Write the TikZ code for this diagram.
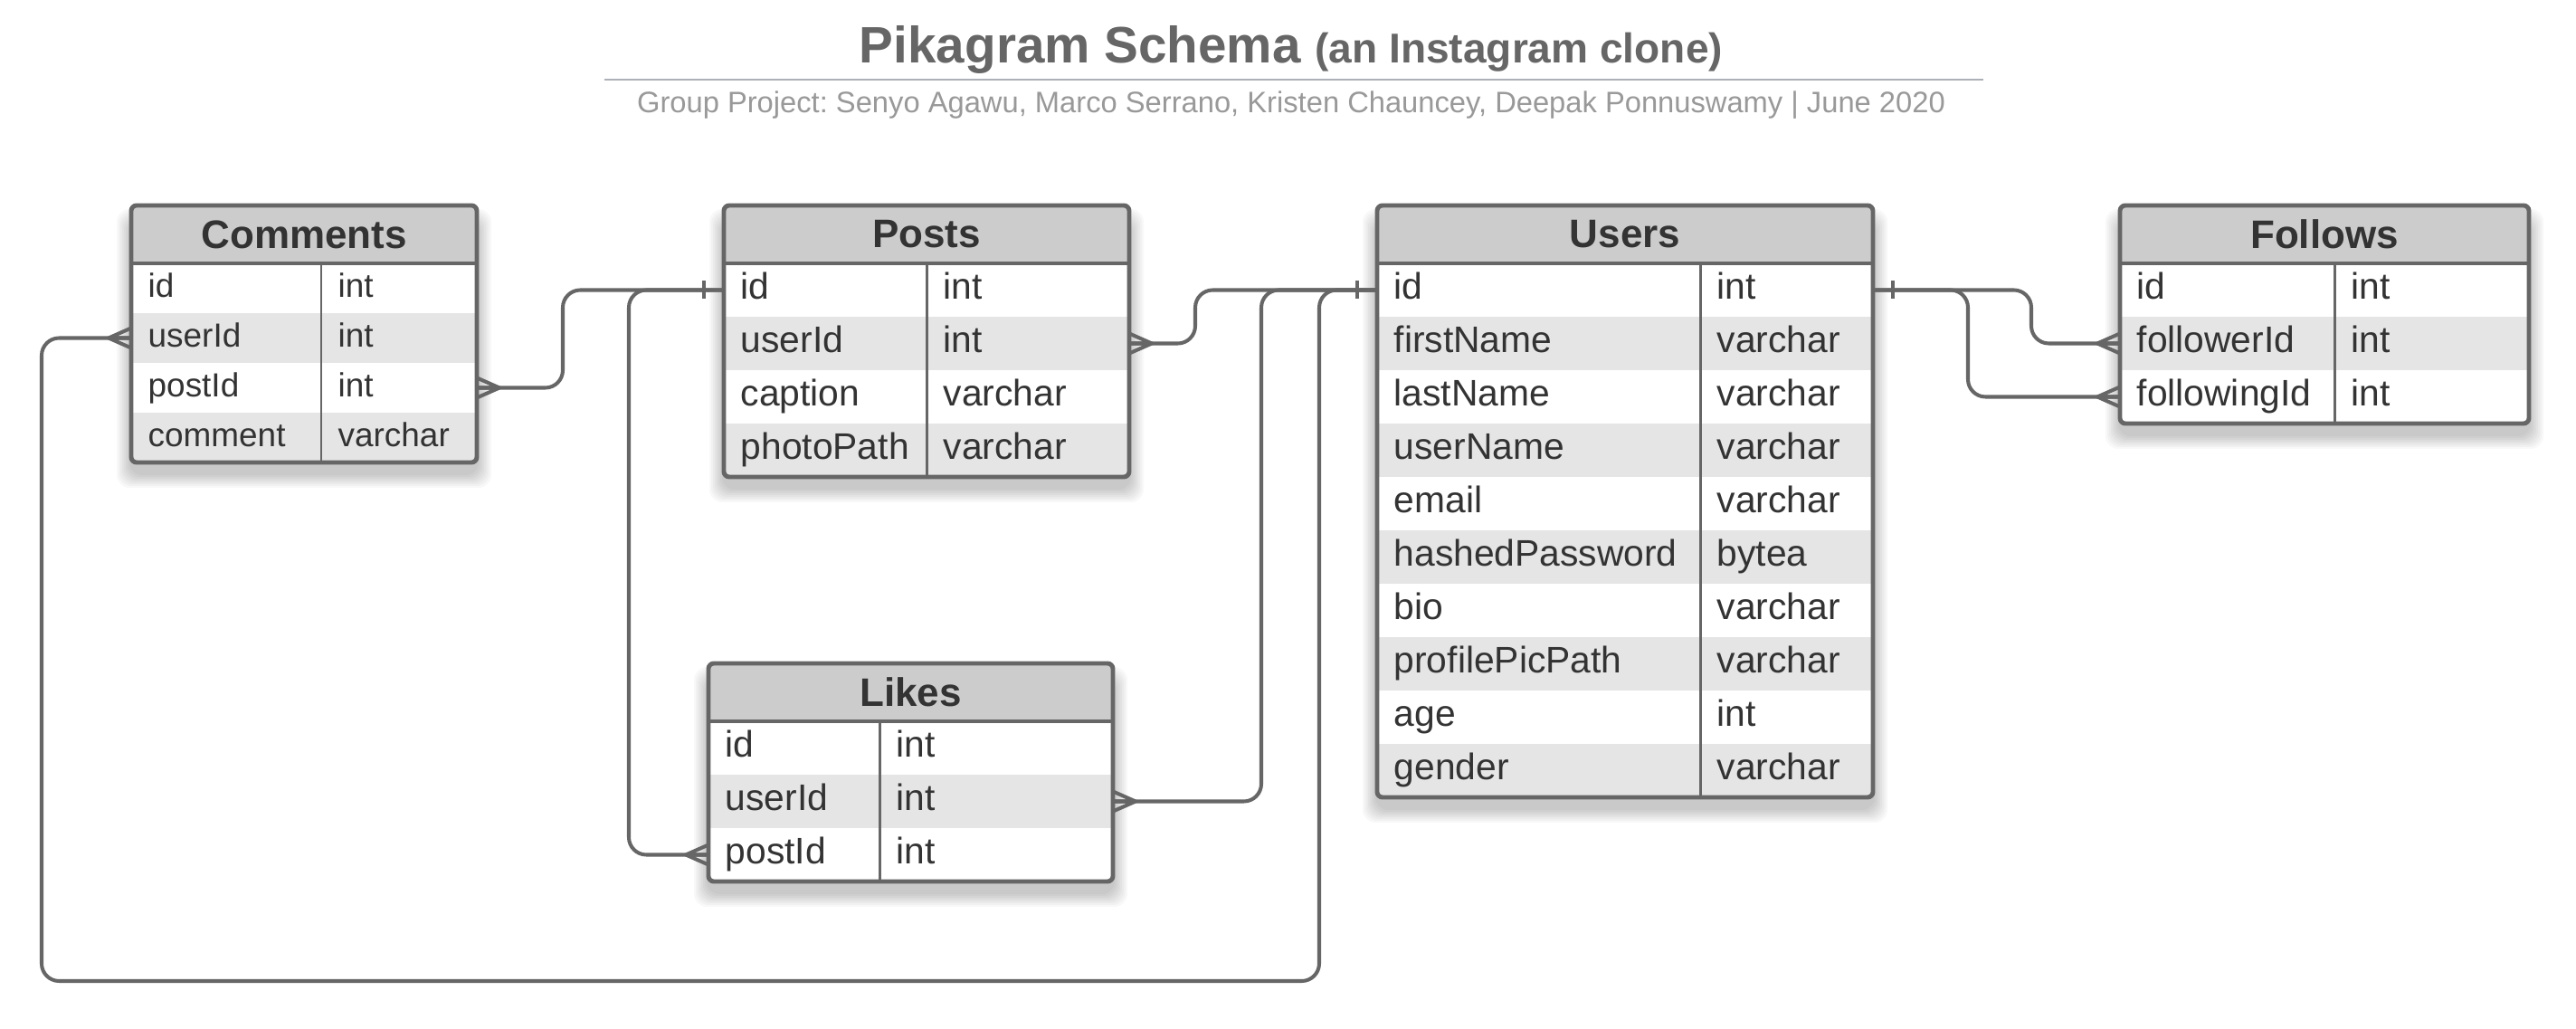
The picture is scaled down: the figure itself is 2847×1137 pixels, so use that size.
\documentclass[tikz,border=0pt]{standalone}
\usepackage{fontspec}
\setmainfont{Liberation Sans}
\frenchspacing

\definecolor{linegray}{HTML}{666666}
\definecolor{hdrgray}{HTML}{CCCCCC}
\definecolor{txtdark}{HTML}{333333}
\definecolor{subgray}{HTML}{999999}
\definecolor{rulegray}{HTML}{ADB0B6}

\tikzset{
  tblhead/.style={fill=hdrgray, inner sep=0pt, outer sep=0pt, minimum height=0.64cm, text=txtdark, font=\fontsize{12.5}{15}\selectfont\bfseries},
  tblrow/.style={inner sep=0pt, outer sep=0pt},
  fieldtxt/.style={anchor=base west, inner sep=0pt, text=txtdark, font=\fontsize{11.6}{14}\selectfont},
  tblline/.style={draw=linegray, line width=1.4pt},
  conn/.style={draw=linegray, line width=1.15pt, rounded corners=5.5pt},
  crow/.pic={\draw[conn, sharp corners, line join=round] (0,-11) -- (25,0) -- (0,11) (0,0) -- (25,0);},
  onebar/.pic={\draw[conn] (-22,-10) -- (-22,10);}
}

% name, x, y, width, first column, row height, rows, title, fields
\newcommand{\erdtable}[9]{%
  \foreach \k in {0,...,7}
    \fill[black, opacity=0.028, rounded corners=4pt]
      ({#2-16+2*\k},{#3+4+2*\k}) rectangle ({#2+#4+16-2*\k},{#3+64+#7*#6+28-2*\k});
  \begin{scope}
    \clip[rounded corners=1.7pt] (#2,#3) rectangle ++(#4,{64+#7*#6});
    \node[tblhead, minimum width={#4*0.01cm}, anchor=north west] (#1) at (#2,#3) {#8};
    \foreach \fld/\typ [count=\i, evaluate=\i as \g using {int(10-10*mod(\i,2))}] in {#9} {
      \node[tblrow, fill=black!\g, minimum width={#4*0.01cm}, minimum height={#6*0.01cm}, anchor=north west]
        (#1-\fld) at (#2,{#3+64+(\i-1)*#6}) {};
      \node[fieldtxt] at ({#2+18},{#3+64+(\i-0.5)*#6+10}) {\fld};
      \node[fieldtxt] at ({#2+#5+18},{#3+64+(\i-0.5)*#6+10}) {\typ};
      \draw[linegray, line width=0.85pt] ({#2+#5},{#3+64+(\i-1)*#6}) -- ++(0,#6);
    }
  \end{scope}
  \draw[tblline] (#2,{#3+64}) -- ++(#4,0);
  \draw[tblline, rounded corners=1.7pt] (#2,#3) rectangle ++(#4,{64+#7*#6});
}

\begin{document}
\begin{tikzpicture}[x=0.01cm, y=-0.01cm]
  \useasboundingbox (0,0) rectangle (2847,1137);
  \fill[white] (0,0) rectangle (2847,1137);

  % title
  \node[font=\fontsize{16.1}{19}\selectfont\bfseries, text=linegray, anchor=base] (title) at (1427,70)
    {Pikagram Schema {\fontsize{13.1}{16}\selectfont(an Instagram clone)}};
  \draw[rulegray, line width=0.7pt] (668,88) -- (2192,88);
  \node[font=\fontsize{9.3}{11}\selectfont, text=subgray, anchor=base] (subtitle) at (1427,125)
    {Group Project: Senyo Agawu, Marco Serrano, Kristen Chauncey, Deepak Ponnuswamy | June 2020};

  % tables
  \begin{scope}[fieldtxt/.append style={font=\fontsize{10.5}{13}\selectfont}]
    \erdtable{comments}{145}{227}{382}{210}{55}{4}{Comments}{id/int, userId/int, postId/int, comment/varchar}
  \end{scope}
  \erdtable{posts}{800}{227}{448}{224}{59}{4}{Posts}{id/int, userId/int, caption/varchar, photoPath/varchar}
  \erdtable{users}{1522}{227}{548}{357}{59}{10}{Users}{id/int, firstName/varchar, lastName/varchar, userName/varchar, email/varchar, hashedPassword/bytea, bio/varchar, profilePicPath/varchar, age/int, gender/varchar}
  \erdtable{follows}{2343}{227}{452}{237}{59}{3}{Follows}{id/int, followerId/int, followingId/int}
  \erdtable{likes}{783}{733}{447}{189}{59}{3}{Likes}{id/int, userId/int, postId/int}

  % relations
  \draw[conn] (posts-id.west) -- ++(-178,0) |- (comments-postId.east);
  \draw[conn] (posts-id.west) -- ++(-105,0) |- (likes-postId.west);
  \draw[conn] (users-id.west) -- ++(-201,0) |- (posts-userId.east);
  \draw[conn] (users-id.west) -- ++(-128,0) |- (likes-userId.east);
  \draw[conn] (users-id.west) -- ++(-64,0) |- (46,1084) |- (comments-userId.west);
  \draw[conn] (users-id.east) -- ++(175,0) |- (follows-followerId.west);
  \draw[conn] (users-id.east) -- ++(105,0) |- (follows-followingId.west);

  \pic at (posts-id.west) {onebar};
  \pic at (users-id.west) {onebar};
  \pic[xscale=-1] at (users-id.east) {onebar};
  \pic at (comments-postId.east) {crow};
  \pic at (posts-userId.east) {crow};
  \pic at (likes-userId.east) {crow};
  \pic[xscale=-1] at (comments-userId.west) {crow};
  \pic[xscale=-1] at (likes-postId.west) {crow};
  \pic[xscale=-1] at (follows-followerId.west) {crow};
  \pic[xscale=-1] at (follows-followingId.west) {crow};
\end{tikzpicture}
\end{document}
